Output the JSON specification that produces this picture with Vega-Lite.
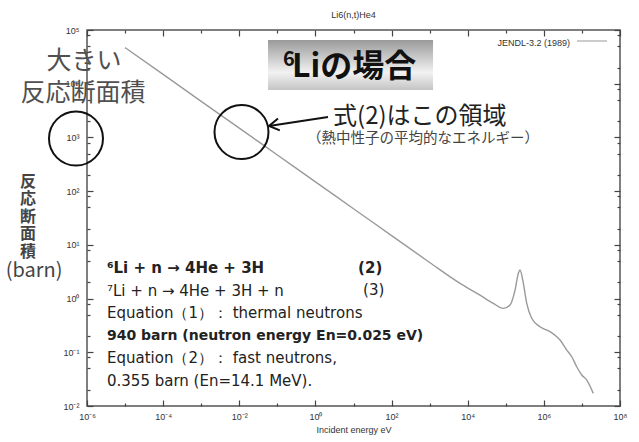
{
  "$schema": "https://vega.github.io/schema/vega-lite/v6.json",
  "width": 533,
  "height": 376,
  "autosize": {"type": "none"},
  "padding": {"left": 87, "top": 30, "right": 19, "bottom": 36},
  "background": "white",
  "title": {"text": "Li6(n,t)He4", "font": "Liberation Sans", "fontSize": 9, "fontWeight": "normal", "color": "#333", "offset": 6},
  "config": {
    "view": {"stroke": "#555", "strokeWidth": 1.5},
    "axis": {"domain": false, "grid": false, "ticks": true, "tickColor": "#444", "tickWidth": 1.2, "labelFont": "Liberation Sans", "labelFontSize": 9, "labelColor": "#333", "labelFlush": false}
  },
  "resolve": {"axis": {"x": "independent", "y": "independent"}},
  "layer": [
    {
      "data": {"values": [
        {"E": 0.00001, "s": 47000}, {"E": 0.0001, "s": 14900}, {"E": 0.001, "s": 4700}, {"E": 0.01, "s": 1490},
        {"E": 0.1, "s": 470}, {"E": 1, "s": 149}, {"E": 10, "s": 47}, {"E": 100, "s": 14.9}, {"E": 1000, "s": 4.7},
        {"E": 6280, "s": 1.92}, {"E": 21000, "s": 1.16}, {"E": 47100, "s": 0.815}, {"E": 86100, "s": 0.658},
        {"E": 129000, "s": 0.759}, {"E": 175000, "s": 1.44}, {"E": 214000, "s": 2.95}, {"E": 237000, "s": 3.4},
        {"E": 279000, "s": 2.21}, {"E": 355000, "s": 0.817}, {"E": 480000, "s": 0.429}, {"E": 792000, "s": 0.299},
        {"E": 1450000, "s": 0.242}, {"E": 2180000, "s": 0.195}, {"E": 2660000, "s": 0.169}, {"E": 3990000, "s": 0.11},
        {"E": 5400000, "s": 0.0826}, {"E": 7290000, "s": 0.0538}, {"E": 9890000, "s": 0.0378}, {"E": 13400000, "s": 0.0304},
        {"E": 19900000, "s": 0.0172}
      ]},
      "mark": {"type": "line", "color": "#9a9a9a", "strokeWidth": 1.4, "interpolate": "monotone"},
      "encoding": {
        "x": {"field": "E", "type": "quantitative", "scale": {"type": "log", "domain": [0.000001, 100000000], "nice": false},
          "axis": {"orient": "bottom", "title": "Incident energy eV", "titleFont": "Liberation Sans", "titleFontSize": 9, "titleFontWeight": "normal", "titleColor": "#333", "titlePadding": 4,
            "values": [0.000001, 0.00001, 0.0001, 0.001, 0.01, 0.1, 1, 10, 100, 1000, 10000, 100000, 1000000, 10000000, 100000000],
            "labelExpr": "round(log(datum.value)/LN10) % 2 == 0 ? '10' + replace(replace(replace(replace(replace(replace(replace(replace(replace(replace(replace(toString(round(log(datum.value)/LN10)),'-','⁻'),'0','⁰'),'1','¹'),'2','²'),'3','³'),'4','⁴'),'5','⁵'),'6','⁶'),'7','⁷'),'8','⁸'),'9','⁹') : ''",
            "tickSize": {"condition": {"test": "round(log(datum.value)/LN10) % 2 != 0", "value": -3}, "value": -6},
            "labelPadding": 12}},
        "y": {"field": "s", "type": "quantitative", "scale": {"type": "log", "domain": [0.01, 100000], "nice": false},
          "axis": {"orient": "left", "title": null,
            "values": [0.01, 0.02, 0.05, 0.08, 0.1, 0.2, 0.5, 0.8, 1, 2, 5, 8, 10, 20, 50, 80, 100, 200, 500, 800, 1000, 2000, 5000, 8000, 10000, 20000, 50000, 80000, 100000],
            "labelExpr": "abs(log(datum.value)/LN10 - round(log(datum.value)/LN10)) < 0.001 ? '10' + replace(replace(replace(replace(replace(replace(replace(replace(replace(replace(replace(toString(round(log(datum.value)/LN10)),'-','⁻'),'0','⁰'),'1','¹'),'2','²'),'3','³'),'4','⁴'),'5','⁵'),'6','⁶'),'7','⁷'),'8','⁸'),'9','⁹') : ''",
            "tickSize": {"condition": {"test": "abs(log(datum.value)/LN10 - round(log(datum.value)/LN10)) > 0.001", "value": -3}, "value": -6},
            "labelPadding": 14}}
      }
    },
    {
      "data": {"values": [{"E": 7430000, "E2": 45600000, "s": 62400}]},
      "mark": {"type": "rule", "color": "#999", "strokeWidth": 1},
      "encoding": {
        "x": {"field": "E", "type": "quantitative", "scale": {"type": "log", "domain": [0.000001, 100000000], "nice": false},
          "axis": {"orient": "top", "labels": false, "title": null,
            "values": [0.000001, 0.00001, 0.0001, 0.001, 0.01, 0.1, 1, 10, 100, 1000, 10000, 100000, 1000000, 10000000, 100000000],
            "tickSize": {"condition": {"test": "round(log(datum.value)/LN10) % 2 != 0", "value": -3}, "value": -6}}},
        "x2": {"field": "E2"},
        "y": {"field": "s", "type": "quantitative", "scale": {"type": "log", "domain": [0.01, 100000], "nice": false},
          "axis": {"orient": "right", "labels": false, "title": null,
            "values": [0.01, 0.02, 0.05, 0.08, 0.1, 0.2, 0.5, 0.8, 1, 2, 5, 8, 10, 20, 50, 80, 100, 200, 500, 800, 1000, 2000, 5000, 8000, 10000, 20000, 50000, 80000, 100000],
            "tickSize": {"condition": {"test": "abs(log(datum.value)/LN10 - round(log(datum.value)/LN10)) > 0.001", "value": -3}, "value": -6}}}
      }
    },
    {
      "data": {"values": [{"E": 0.0568, "E2": 1228, "s": 65200, "s2": 7640}]},
      "mark": {"type": "rect", "fill": {"gradient": "linear", "x1": 0, "y1": 0, "x2": 0, "y2": 1, "stops": [{"offset": 0, "color": "#9a9a9a"}, {"offset": 0.65, "color": "#f2f2f2"}, {"offset": 1, "color": "#c4c4c4"}]}},
      "encoding": {
        "x": {"field": "E", "type": "quantitative", "scale": {"type": "log", "domain": [0.000001, 100000000], "nice": false}, "axis": null},
        "x2": {"field": "E2"},
        "y": {"field": "s", "type": "quantitative", "scale": {"type": "log", "domain": [0.01, 100000], "nice": false}, "axis": null},
        "y2": {"field": "s2"}
      }
    },
    {
      "data": {"values": [{"E": 0.2427, "s": 20500, "t": "Liの場合"}]},
      "mark": {"type": "text", "font": "Noto Sans CJK JP", "fontSize": 32, "fontWeight": "bold", "color": "#111", "align": "left", "baseline": "middle"},
      "encoding": {
        "x": {"field": "E", "type": "quantitative", "scale": {"type": "log", "domain": [0.000001, 100000000], "nice": false}, "axis": null},
        "y": {"field": "s", "type": "quantitative", "scale": {"type": "log", "domain": [0.01, 100000], "nice": false}, "axis": null},
        "text": {"field": "t"}
      }
    },
    {
      "data": {"values": [{"E": 0.1406, "s": 27600, "t": "6"}]},
      "mark": {"type": "text", "font": "Noto Sans CJK JP", "fontSize": 20, "fontWeight": "bold", "color": "#111", "align": "left", "baseline": "middle"},
      "encoding": {
        "x": {"field": "E", "type": "quantitative", "scale": {"type": "log", "domain": [0.000001, 100000000], "nice": false}, "axis": null},
        "y": {"field": "s", "type": "quantitative", "scale": {"type": "log", "domain": [0.01, 100000], "nice": false}, "axis": null},
        "text": {"field": "t"}
      }
    },
    {
      "data": {"values": [{"E": 4870000, "s": 57300, "t": "JENDL-3.2 (1989)"}]},
      "mark": {"type": "text", "font": "Liberation Sans", "fontSize": 9, "color": "#333", "align": "right", "baseline": "middle"},
      "encoding": {
        "x": {"field": "E", "type": "quantitative", "scale": {"type": "log", "domain": [0.000001, 100000000], "nice": false}, "axis": null},
        "y": {"field": "s", "type": "quantitative", "scale": {"type": "log", "domain": [0.01, 100000], "nice": false}, "axis": null},
        "text": {"field": "t"}
      }
    },
    {
      "data": {"values": [{"E": 0.000000834, "s": 26500, "t": "大きい"}, {"E": 0.000000785, "s": 6710, "t": "反応断面積"}]},
      "mark": {"type": "text", "font": "Noto Sans CJK JP", "fontSize": 25, "color": "#505050", "align": "center", "baseline": "middle"},
      "encoding": {
        "x": {"field": "E", "type": "quantitative", "scale": {"type": "log", "domain": [0.000001, 100000000], "nice": false}, "axis": null},
        "y": {"field": "s", "type": "quantitative", "scale": {"type": "log", "domain": [0.01, 100000], "nice": false}, "axis": null},
        "text": {"field": "t"}
      }
    },
    {
      "data": {"values": [{"E": 2.9, "s": 2399, "t": "式(2)はこの領域"}]},
      "mark": {"type": "text", "font": "Noto Sans CJK JP", "fontSize": 24, "color": "#222", "align": "left", "baseline": "middle"},
      "encoding": {
        "x": {"field": "E", "type": "quantitative", "scale": {"type": "log", "domain": [0.000001, 100000000], "nice": false}, "axis": null},
        "y": {"field": "s", "type": "quantitative", "scale": {"type": "log", "domain": [0.01, 100000], "nice": false}, "axis": null},
        "text": {"field": "t"}
      }
    },
    {
      "data": {"values": [{"E": 0.601, "s": 935, "t": "（熱中性子の平均的なエネルギー）"}]},
      "mark": {"type": "text", "font": "Noto Sans CJK JP", "fontSize": 14.5, "color": "#444", "align": "left", "baseline": "middle"},
      "encoding": {
        "x": {"field": "E", "type": "quantitative", "scale": {"type": "log", "domain": [0.000001, 100000000], "nice": false}, "axis": null},
        "y": {"field": "s", "type": "quantitative", "scale": {"type": "log", "domain": [0.01, 100000], "nice": false}, "axis": null},
        "text": {"field": "t"}
      }
    },
    {
      "data": {"values": [{"E": 0.0000000282, "s": 148, "t": "反\n応\n断\n面\n積"}]},
      "mark": {"type": "text", "font": "Noto Sans CJK JP", "fontSize": 16, "fontWeight": "bold", "color": "#444", "align": "center", "baseline": "middle", "lineBreak": "\n", "lineHeight": 17.5},
      "encoding": {
        "x": {"field": "E", "type": "quantitative", "scale": {"type": "log", "domain": [0.000001, 100000000], "nice": false}, "axis": null},
        "y": {"field": "s", "type": "quantitative", "scale": {"type": "log", "domain": [0.01, 100000], "nice": false}, "axis": null},
        "text": {"field": "t"}
      }
    },
    {
      "data": {"values": [{"E": 0.0000000406, "s": 3.26, "t": "(barn)"}]},
      "mark": {"type": "text", "font": "Noto Sans CJK JP", "fontSize": 20, "color": "#444", "align": "center", "baseline": "middle"},
      "encoding": {
        "x": {"field": "E", "type": "quantitative", "scale": {"type": "log", "domain": [0.000001, 100000000], "nice": false}, "axis": null},
        "y": {"field": "s", "type": "quantitative", "scale": {"type": "log", "domain": [0.01, 100000], "nice": false}, "axis": null},
        "text": {"field": "t"}
      }
    },
    {
      "data": {"values": [
        {"E": 0.00000335, "s": 3.71, "t": "⁶Li + n → 4He + 3H"},
        {"E": 13.2, "s": 3.71, "t": "(2)"}
      ]},
      "mark": {"type": "text", "font": "DejaVu Sans", "fontSize": 15, "fontWeight": "bold", "color": "#222", "align": "left", "baseline": "middle"},
      "encoding": {
        "x": {"field": "E", "type": "quantitative", "scale": {"type": "log", "domain": [0.000001, 100000000], "nice": false}, "axis": null},
        "y": {"field": "s", "type": "quantitative", "scale": {"type": "log", "domain": [0.01, 100000], "nice": false}, "axis": null},
        "text": {"field": "t"}
      }
    },
    {
      "data": {"values": [
        {"E": 0.00000335, "s": 0.201, "t": "940 barn (neutron energy En=0.025 eV)"}
      ]},
      "mark": {"type": "text", "font": "DejaVu Sans", "fontSize": 14, "fontWeight": "bold", "color": "#222", "align": "left", "baseline": "middle"},
      "encoding": {
        "x": {"field": "E", "type": "quantitative", "scale": {"type": "log", "domain": [0.000001, 100000000], "nice": false}, "axis": null},
        "y": {"field": "s", "type": "quantitative", "scale": {"type": "log", "domain": [0.01, 100000], "nice": false}, "axis": null},
        "text": {"field": "t"}
      }
    },
    {
      "data": {"values": [
        {"E": 0.00000335, "s": 1.38, "t": "⁷Li + n → 4He + 3H + n"},
        {"E": 17.8, "s": 1.44, "t": "(3)"},
        {"E": 0.00000335, "s": 0.538, "t": "Equation（1）：  thermal neutrons"},
        {"E": 0.00000335, "s": 0.0782, "t": "Equation（2）：  fast neutrons,"},
        {"E": 0.00000335, "s": 0.0292, "t": "0.355 barn (En=14.1 MeV)."}
      ]},
      "mark": {"type": "text", "font": "DejaVu Sans", "fontSize": 15, "color": "#222", "align": "left", "baseline": "middle"},
      "encoding": {
        "x": {"field": "E", "type": "quantitative", "scale": {"type": "log", "domain": [0.000001, 100000000], "nice": false}, "axis": null},
        "y": {"field": "s", "type": "quantitative", "scale": {"type": "log", "domain": [0.01, 100000], "nice": false}, "axis": null},
        "text": {"field": "t"}
      }
    },
    {
      "data": {"values": [{"E": 0.000000514, "s": 955}, {"E": 0.01143, "s": 1262}]},
      "mark": {"type": "point", "shape": "circle", "size": 2916, "filled": false, "stroke": "#111", "strokeWidth": 2, "opacity": 1},
      "encoding": {
        "x": {"field": "E", "type": "quantitative", "scale": {"type": "log", "domain": [0.000001, 100000000], "nice": false}, "axis": null},
        "y": {"field": "s", "type": "quantitative", "scale": {"type": "log", "domain": [0.01, 100000], "nice": false}, "axis": null}
      }
    },
    {
      "data": {"values": [{"E": 2.14, "s": 2399, "E2": 0.0604, "s2": 1633}]},
      "mark": {"type": "rule", "color": "#111", "strokeWidth": 2},
      "encoding": {
        "x": {"field": "E", "type": "quantitative", "scale": {"type": "log", "domain": [0.000001, 100000000], "nice": false}, "axis": null},
        "x2": {"field": "E2"},
        "y": {"field": "s", "type": "quantitative", "scale": {"type": "log", "domain": [0.01, 100000], "nice": false}, "axis": null},
        "y2": {"field": "s2"}
      }
    },
    {
      "data": {"values": [{"E": 0.0604, "s": 1633}]},
      "mark": {"type": "point", "shape": "M1,-0.6L0,0L1,0.6", "size": 400, "filled": false, "stroke": "#111", "strokeWidth": 2, "angle": 351.3, "opacity": 1},
      "encoding": {
        "x": {"field": "E", "type": "quantitative", "scale": {"type": "log", "domain": [0.000001, 100000000], "nice": false}, "axis": null},
        "y": {"field": "s", "type": "quantitative", "scale": {"type": "log", "domain": [0.01, 100000], "nice": false}, "axis": null}
      }
    }
  ]
}
